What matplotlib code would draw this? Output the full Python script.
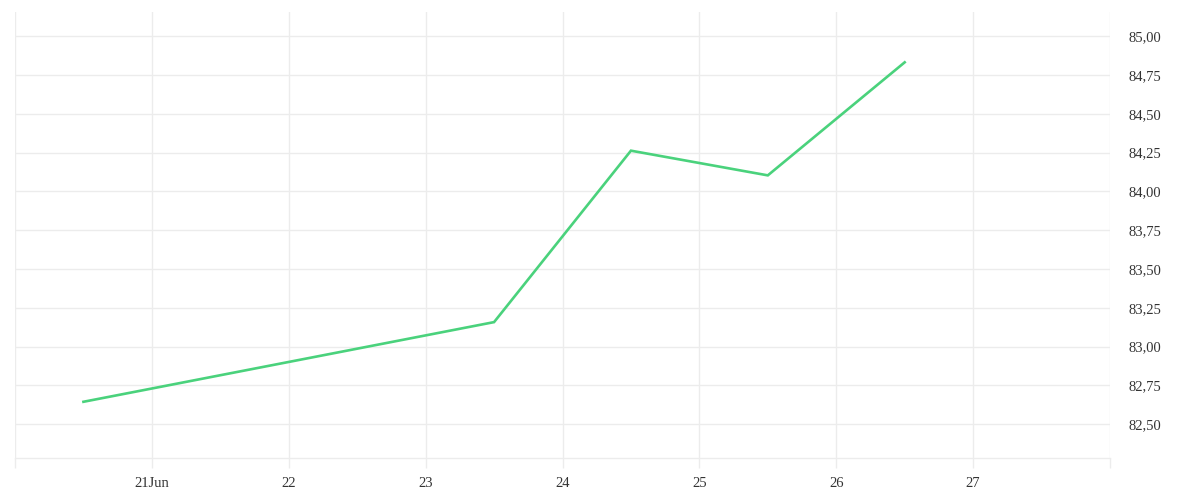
import datetime as dt

import matplotlib
matplotlib.use("Agg")
import matplotlib.dates as mdates
import matplotlib.pyplot as plt
from matplotlib.ticker import FixedLocator, FuncFormatter

# data
timestamps = [
    "2024-06-20 12:00",
    "2024-06-23 12:00",
    "2024-06-24 12:00",
    "2024-06-25 12:00",
    "2024-06-26 12:00",
]
prices = [82.645, 83.158, 84.262, 84.103, 84.831]

y_ticks = [82.50, 82.75, 83.00, 83.25, 83.50, 83.75, 84.00, 84.25, 84.50, 84.75, 85.00]
day_ticks = [dt.datetime(2024, 6, d) for d in range(20, 29)]
day_labels = ["", "21Jun", "22", "23", "24", "25", "26", "27", ""]

grid_color = "#ececec"
text_color = "#333333"
line_color = "#4ad27c"

plt.rcParams["font.family"] = ["Liberation Serif", "DejaVu Serif"]

x = [dt.datetime.strptime(t, "%Y-%m-%d %H:%M") for t in timestamps]

fig = plt.figure(figsize=(12, 5), dpi=100)
ax = fig.add_axes([15 / 1200, 1 - 458 / 500, 1095 / 1200, 446 / 500])

ax.plot(x, prices, color=line_color, linewidth=1.9, solid_joinstyle="miter", zorder=3)

ax.set_xlim(day_ticks[0], day_ticks[-1])
ax.set_ylim(82.283, 85.155)

ax.xaxis.set_major_locator(FixedLocator(mdates.date2num(day_ticks)))
ax.set_xticklabels(day_labels)
ax.yaxis.set_major_locator(FixedLocator(y_ticks))
ax.yaxis.set_major_formatter(FuncFormatter(lambda v, p: f"{v:.2f}".replace(".", ",")))
ax.yaxis.tick_right()

ax.grid(True, color=grid_color, linewidth=1.0)
ax.set_axisbelow(True)

for side in ["top", "left", "right"]:
    ax.spines[side].set_visible(False)
ax.spines["bottom"].set_color(grid_color)
ax.spines["bottom"].set_linewidth(1.0)

ax.tick_params(axis="x", length=7.5, width=1.0, color=grid_color,
               labelsize=10.5, labelcolor=text_color, pad=6)
ax.tick_params(axis="y", length=0, labelsize=10.5, labelcolor=text_color, pad=13)

fig.savefig("out.png", dpi=100, facecolor="white")
